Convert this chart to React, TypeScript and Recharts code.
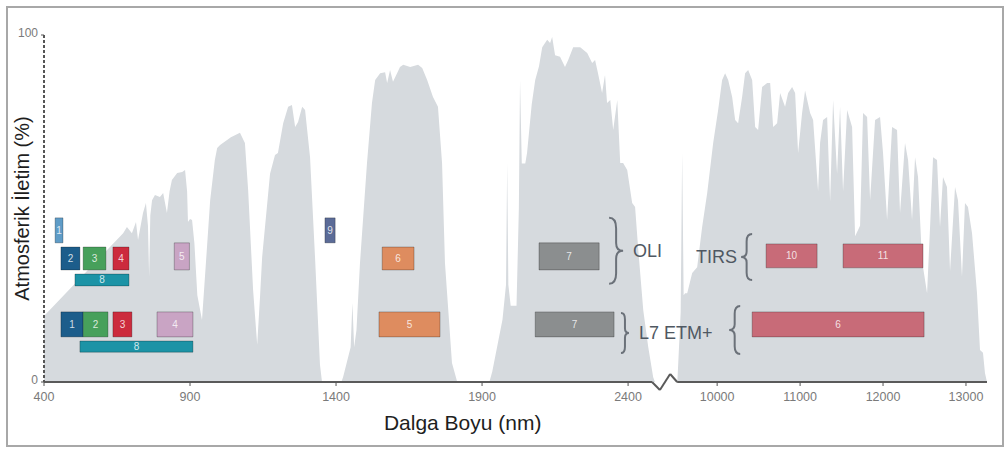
import { ComposedChart, Area, XAxis, YAxis, ReferenceArea, ReferenceLine, ReferenceDot } from 'recharts';

// atmospheric transmission curve (nm, %)
const WAVELENGTH_NM = [
  400, 671, 684, 701, 715, 722, 739, 749, 756, 760, 764, 770, 780, 797, 808, 821, 830, 838, 856, 873, 883, 890, 893,
  900, 907, 915, 925, 941, 955, 969, 985, 993, 1003, 1040, 1071, 1088, 1099, 1116, 1130, 1140, 1147, 1174, 1191, 1201,
  1219, 1236, 1249, 1260, 1270, 1284, 1294, 1311, 1328, 1345, 1352,
  1418, 1424, 1450, 1456, 1462, 1470, 1482, 1506, 1523, 1534, 1551, 1568, 1575, 1585, 1595, 1609, 1619, 1630, 1654,
  1681, 1695, 1712, 1732, 1749, 1763, 1773, 1797, 1815,
  1925, 1935, 1970, 1982, 1986, 1990, 1998, 2018, 2026, 2030, 2036, 2048, 2054, 2070, 2082, 2095, 2106, 2123, 2133,
  2140, 2150, 2167, 2184, 2195, 2212, 2236, 2260, 2277, 2287, 2297, 2311, 2321, 2328, 2339, 2349, 2363, 2373, 2383,
  2397, 2414, 2424, 2435, 2452, 2469, 2486, 2492,
  9520, 9560, 9578, 9596, 9614, 9639, 9699, 9759, 9819, 9880, 9952, 10012, 10060, 10096, 10133, 10181, 10217, 10253,
  10301, 10337, 10374, 10422, 10458, 10494, 10542, 10603, 10639, 10675, 10723, 10759, 10819, 10856, 10904, 10940,
  10976, 11024, 11060, 11121, 11157, 11217, 11241, 11277, 11326, 11362, 11398, 11446, 11482, 11518, 11567, 11627,
  11663, 11723, 11759, 11808, 11844, 11904, 11964, 12000, 12049, 12109, 12169, 12205, 12265, 12302, 12350, 12386,
  12422, 12470, 12531, 12567, 12603, 12651, 12687, 12723, 12771, 12808, 12868, 12904, 12952, 12988, 13024, 13073,
  13133, 13169, 13205, 13229, 13253,
];
const TRANSMISSION_PCT = [
  19, 42.9, 44.7, 42.9, 46.1, 40.9, 48.7, 51.6, 45, 30.3, 48, 52.4, 53.9, 53.3, 54.5, 48.7, 55, 58.2, 60.2, 60.5, 61.1, 55, 46.1,
  47, 46.7, 40, 25, 17.9, 35, 52.4, 64, 67.4, 68.3, 70.5, 71.8, 68.9, 55.3, 26.5, 10.7, 25, 36, 60, 65.4, 66,
  74.6, 79.3, 79.8, 73.5, 74.9, 79.3, 78.4, 64.8, 36, 5, 0,
  0, 1.4, 10, 22.8, 10, 15, 34.3, 63.1, 80.4, 87, 89, 89.3, 86.2, 89.9, 86.5, 89, 90.8, 91.4, 90.8,
  91.4, 90.5, 87, 82.1, 79.3, 63.1, 34.3, 5.5, 0,
  0, 3, 18, 28, 63.1, 28, 22, 22, 50, 87, 63, 63, 66, 80, 87, 91, 96.5, 98.6, 97.7,
  99.4, 94.2, 93.7, 90.8, 92.8, 96.5, 96.5, 94.8, 91.9, 92.8, 89, 83.3, 88.5, 80.4, 81.3, 72.6, 81.3, 63.1, 63.1,
  61.1, 51.6, 50.4, 38, 20.7, 10.1, 1.4, 0,
  0, 20, 66, 25, 25.6, 25.6, 31.4, 33.1, 44.7, 54.5, 68.9, 78.4, 87, 89, 87, 82.1, 75.5, 74.6,
  82.1, 89, 89.9, 87, 73.5, 72.6, 85, 86.2, 86.2, 73.5, 74.6, 83.3, 79.3, 83.3, 85, 83.3,
  66, 77.5, 84, 77.5, 75.5, 55, 68.9, 75.5, 76.4, 52, 81.3, 60, 79.3, 55, 78.4, 73.5,
  42, 45, 77.5, 76.4, 52.4, 75.5, 76.4, 66, 46.7, 73.5, 72.6, 48.7, 68.9, 64, 46.7, 64.8,
  59.1, 35, 25.6, 44.7, 64.8, 64, 44.7, 59.1, 56.2, 32, 56.2, 52.4, 30.3, 51.6, 50.4, 42.9,
  25.6, 9.2, 8.4, 2.6, 0,
];

const X_TICKS_NM = [400, 900, 1400, 1900, 2400, 10000, 11000, 12000, 13000];
const X_TICK_LABELS = ['400', '900', '1400', '1900', '2400', '10000', '11000', '12000', '13000'];
const Y_TICKS = [0, 100];

// sensor bands: label, start/end wavelength (nm), box bottom/top (%)
const OLI_BANDS = [
  { label: '1', from: 438, to: 465, lo: 40.1, hi: 47.3 },
  { label: '2', from: 458, to: 523, lo: 32.3, hi: 38.9 },
  { label: '3', from: 534, to: 612, lo: 32.3, hi: 38.9 },
  { label: '4', from: 636, to: 691, lo: 32.3, hi: 38.9 },
  { label: '5', from: 846, to: 898, lo: 32.3, hi: 40.1 },
  { label: '8', from: 506, to: 691, lo: 27.7, hi: 31.1 },
  { label: '9', from: 1362, to: 1397, lo: 40.1, hi: 47.3 },
  { label: '6', from: 1558, to: 1667, lo: 32.3, hi: 38.9 },
  { label: '7', from: 2095, to: 2301, lo: 32.3, hi: 40.1 },
];
const TIRS_BANDS = [
  { label: '10', from: 10590, to: 11205, lo: 32.9, hi: 39.8 },
  { label: '11', from: 11518, to: 12482, lo: 32.9, hi: 39.8 },
];
const ETM_BANDS = [
  { label: '1', from: 458, to: 534, lo: 13, hi: 20.2 },
  { label: '2', from: 534, to: 619, lo: 13, hi: 20.2 },
  { label: '3', from: 636, to: 701, lo: 13, hi: 20.2 },
  { label: '4', from: 787, to: 910, lo: 13, hi: 20.2 },
  { label: '8', from: 523, to: 910, lo: 8.6, hi: 11.8 },
  { label: '5', from: 1547, to: 1756, lo: 13, hi: 20.2 },
  { label: '7', from: 2082, to: 2352, lo: 13, hi: 20.2 },
  { label: '6', from: 10422, to: 12495, lo: 13, hi: 20.2 },
];

// sensor group braces: tip position (nm, %) and text
const BRACES = [
  { text: 'OLI', nm: 2383, pct: 37.8, dir: 1, h: 66, w: 14 },
  { text: 'L7 ETM+', nm: 2403, pct: 14.1, dir: 1, h: 40, w: 8 },
  { text: 'TIRS', nm: 10289, pct: 36.0, dir: -1, h: 46, w: 11 },
  { text: '', nm: 10145, pct: 15.0, dir: -1, h: 48, w: 11 },
];

const OLI_COLORS: Record<string, string> = {
  '1': '#5f9cc7', '2': '#1c5d8b', '3': '#47a05b', '4': '#cc2b3d', '5': '#c9a4c4',
  '8': '#1c93a6', '9': '#5b6b97', '6': '#de8c5f', '7': '#8b8e8f',
};
const ETM_COLORS: Record<string, string> = {
  '1': '#1c5d8b', '2': '#47a05b', '3': '#cc2b3d', '4': '#c9a4c4',
  '8': '#1c93a6', '5': '#de8c5f', '7': '#8b8e8f', '6': '#c86b78',
};
const TIRS_COLOR = '#c86b78';

// broken x axis: thermal range squeezed after 2400 nm
const THERMAL_START_V = 2705;
const THERMAL_SCALE = 0.284;
const X_MAX_V = 3629;
const toV = (nm: number) => (nm < 5000 ? nm : THERMAL_START_V + (nm - 10000) * THERMAL_SCALE);

const BREAK_X = [2482, 2509, 2544, 2568];
const BREAK_Y = [0, -2.3, 2.3, 0];

const FONT = '"Liberation Sans", Arial, sans-serif';

const data = WAVELENGTH_NM.map((nm, i) => ({ x: toV(nm), t: TRANSMISSION_PCT[i] }));
const xTicks = X_TICKS_NM.map(toV);

function BandLabel({ viewBox, value }: any) {
  if (!viewBox) return null;
  return (
    <text
      x={viewBox.x + viewBox.width / 2}
      y={viewBox.y + viewBox.height / 2}
      textAnchor="middle"
      dominantBaseline="central"
      fontSize={10}
      fontFamily={FONT}
      fill="#ffffff"
      fillOpacity={0.8}
    >
      {value}
    </text>
  );
}

function Brace({ cx, cy, h, w, dir, text }: any) {
  const x0 = cx - dir * w;
  const xm = cx - (dir * w) / 2;
  const y0 = cy - h / 2;
  const y1 = cy + h / 2;
  const d =
    `M${x0},${y0} Q${xm},${y0} ${xm},${y0 + h * 0.16} L${xm},${cy - h * 0.12} Q${xm},${cy} ${cx},${cy} ` +
    `Q${xm},${cy} ${xm},${cy + h * 0.12} L${xm},${y1 - h * 0.16} Q${xm},${y1} ${x0},${y1}`;
  return (
    <g>
      <path d={d} fill="none" stroke="#6b7179" strokeWidth={2} />
      {text ? (
        <text
          x={dir > 0 ? cx + 10 : cx - 4}
          y={cy}
          textAnchor={dir > 0 ? 'start' : 'end'}
          dominantBaseline="central"
          fontSize={18}
          fontFamily={FONT}
          fill="#4f5862"
        >
          {text}
        </text>
      ) : null}
    </g>
  );
}

function YLabel({ viewBox }: any) {
  const cx = viewBox.x + 22;
  const cy = viewBox.y + viewBox.height / 2;
  return (
    <text
      x={cx}
      y={cy}
      transform={`rotate(-90 ${cx} ${cy})`}
      textAnchor="middle"
      dominantBaseline="central"
      fontSize={20}
      fontFamily={FONT}
      fill="#1e1e1e"
    >
      Atmosferik İletim (%)
    </text>
  );
}

function XLabel({ viewBox }: any) {
  return (
    <text
      x={viewBox.x + viewBox.width * 0.444}
      y={viewBox.y + 40}
      textAnchor="middle"
      dominantBaseline="central"
      fontSize={21}
      fontFamily={FONT}
      fill="#1e1e1e"
    >
      Dalga Boyu (nm)
    </text>
  );
}

function bandAreas(bands: typeof OLI_BANDS, colorOf: (label: string) => string, key: string) {
  return bands.map((b) => (
    <ReferenceArea
      key={`${key}-${b.label}`}
      x1={toV(b.from)}
      x2={toV(b.to)}
      y1={b.lo}
      y2={b.hi}
      fill={colorOf(b.label)}
      fillOpacity={1}
      stroke="rgba(0,0,0,0.25)"
      strokeWidth={1}
      zIndex={150}
      label={<BandLabel value={b.label} />}
    />
  ));
}

export default function App() {
  return (
    <div style={{ position: 'absolute', left: 0, top: 0, width: 1006, height: 449, background: '#fff' }}>
      <div
        style={{
          position: 'absolute',
          left: 6,
          top: 6,
          width: 994,
          height: 437,
          border: '2px solid #a8a8a8',
        }}
      />
      <ComposedChart
        width={1006}
        height={449}
        data={data}
        margin={{ top: 35, right: 19, bottom: 0, left: 0 }}
        style={{ position: 'absolute', left: 0, top: 0 }}
      >
        <XAxis
          type="number"
          dataKey="x"
          domain={[400, X_MAX_V]}
          ticks={xTicks}
          tickFormatter={(_v: number, i: number) => X_TICK_LABELS[i]}
          axisLine={false}
          tickLine={{ stroke: '#555' }}
          tickSize={4}
          tickMargin={6}
          height={67}
          interval={0}
          allowDataOverflow
          tick={{ fontSize: 12.5, fill: '#7a7a7a', fontFamily: FONT }}
          label={<XLabel />}
        />
        <YAxis
          type="number"
          domain={[0, 100]}
          ticks={Y_TICKS}
          width={44}
          axisLine={{ stroke: '#555', strokeWidth: 2, strokeDasharray: '3 2' }}
          tickLine={{ stroke: '#555' }}
          tickSize={3}
          tickMargin={3}
          tick={{ fontSize: 12, fill: '#7a7a7a', fontFamily: FONT, dy: -2 }}
          label={<YLabel />}
        />
        <Area
          type="linear"
          dataKey="t"
          baseValue={0}
          stroke="none"
          fill="#d6dade"
          fillOpacity={1}
          isAnimationActive={false}
          dot={false}
          activeDot={false}
        />
        <ReferenceLine
          segment={[{ x: 400, y: 0 }, { x: BREAK_X[0], y: 0 }]}
          stroke="#5a5a5a"
          strokeWidth={2}
          ifOverflow="visible"
        />
        {BREAK_X.slice(1).map((bx, i) => (
          <ReferenceLine
            key={`brk-${i}`}
            segment={[{ x: BREAK_X[i], y: BREAK_Y[i] }, { x: bx, y: BREAK_Y[i + 1] }]}
            stroke="#5a5a5a"
            strokeWidth={2}
            ifOverflow="visible"
          />
        ))}
        <ReferenceLine
          segment={[{ x: BREAK_X[3], y: 0 }, { x: X_MAX_V, y: 0 }]}
          stroke="#5a5a5a"
          strokeWidth={2}
          ifOverflow="visible"
        />
        {bandAreas(OLI_BANDS, (l) => OLI_COLORS[l], 'oli')}
        {bandAreas(TIRS_BANDS, () => TIRS_COLOR, 'tirs')}
        {bandAreas(ETM_BANDS, (l) => ETM_COLORS[l], 'etm')}
        {BRACES.map((b, i) => (
          <ReferenceDot
            key={`brace-${i}`}
            x={toV(b.nm)}
            y={b.pct}
            r={0}
            ifOverflow="visible"
            shape={(p: any) => <Brace cx={p.cx} cy={p.cy} h={b.h} w={b.w} dir={b.dir} text={b.text} />}
          />
        ))}
      </ComposedChart>
    </div>
  );
}
